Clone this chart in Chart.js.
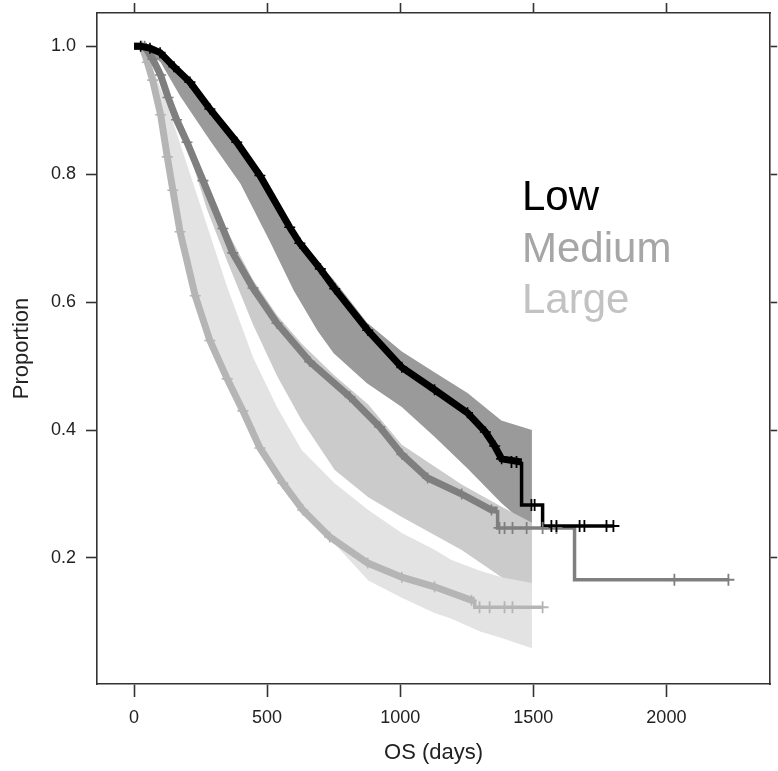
<!DOCTYPE html>
<html><head><meta charset="utf-8">
<script src="https://cdn.jsdelivr.net/npm/chart.js@4.4.1/dist/chart.umd.min.js"></script>
<style>html,body{margin:0;padding:0;background:#fff;}#wrap{width:778px;height:771px;}</style>
</head><body><div id="wrap"><canvas id="c" width="778" height="771"></canvas></div>
<script>
// ---------- data ----------
const xTicks = [0, 500, 1000, 1500, 2000];
const yTicks = [0.2, 0.4, 0.6, 0.8, 1.0];
const groupNames = ['Low', 'Medium', 'Large'];

// Kaplan-Meier curves
const lowDays = [0, 25, 60, 98, 150, 210, 285, 386, 473, 585, 623, 700, 754, 878, 1006, 1129, 1253, 1320, 1355, 1381, 1456, 1456, 1535, 1535, 1801];
const lowSurv = [1.0, 1.0, 0.997, 0.99, 0.968, 0.944, 0.902, 0.85, 0.798, 0.717, 0.692, 0.652, 0.621, 0.556, 0.498, 0.463, 0.427, 0.397, 0.375, 0.355, 0.35, 0.283, 0.283, 0.25, 0.25];
const medDays = [0, 40, 70, 100, 128, 160, 199, 259, 334, 371, 447, 537, 660, 811, 923, 1006, 1103, 1231, 1343, 1366, 1366, 1655, 1655, 2236];
const medSurv = [1.0, 1.0, 0.98, 0.955, 0.92, 0.885, 0.85, 0.79, 0.715, 0.677, 0.622, 0.567, 0.507, 0.452, 0.405, 0.362, 0.325, 0.30, 0.275, 0.275, 0.247, 0.247, 0.166, 0.166];
const largeDays = [0, 30, 50, 70, 100, 125, 146, 173, 230, 285, 350, 409, 473, 559, 634, 735, 878, 1006, 1129, 1268, 1280, 1280, 1535];
const largeSurv = [1.0, 1.0, 0.975, 0.947, 0.893, 0.827, 0.775, 0.71, 0.61, 0.54, 0.48, 0.43, 0.372, 0.317, 0.275, 0.233, 0.192, 0.17, 0.155, 0.134, 0.134, 0.123, 0.123];

// late censoring marks
const lowCensDays = [1418, 1437, 1493, 1505, 1568, 1587, 1674, 1692, 1775, 1801];
const lowCensSurv = [0.35, 0.35, 0.283, 0.283, 0.25, 0.25, 0.25, 0.25, 0.25, 0.25];
const medCensDays = [1373, 1392, 1422, 1475, 1535, 1587, 2030, 2233];
const medCensSurv = [0.247, 0.247, 0.247, 0.247, 0.247, 0.247, 0.166, 0.166];
const largeCensDays = [1298, 1336, 1392, 1422, 1535];
const largeCensSurv = [0.123, 0.123, 0.123, 0.123, 0.123];

// shaded bands
const lowBandDays = [25, 100, 175, 285, 400, 510, 600, 690, 750, 875, 1006, 1130, 1253, 1380, 1495];
const lowBandHi = [1.0, 0.993, 0.962, 0.906, 0.846, 0.78, 0.712, 0.662, 0.635, 0.568, 0.523, 0.49, 0.458, 0.415, 0.40];
const lowBandLo = [1.0, 0.975, 0.921, 0.853, 0.785, 0.695, 0.618, 0.555, 0.52, 0.473, 0.436, 0.389, 0.34, 0.286, 0.244];
const medBandDays = [40, 128, 199, 274, 349, 447, 537, 630, 754, 880, 1006, 1231, 1381, 1495];
const medBandHi = [1.0, 0.93, 0.862, 0.79, 0.712, 0.635, 0.58, 0.535, 0.485, 0.44, 0.377, 0.315, 0.28, 0.255];
const medBandLo = [1.0, 0.915, 0.845, 0.745, 0.665, 0.565, 0.485, 0.415, 0.3375, 0.295, 0.264, 0.2125, 0.17, 0.139];
const largeBandDays = [30, 70, 128, 199, 274, 349, 447, 537, 630, 754, 880, 1006, 1129, 1193, 1300, 1381, 1495];
const largeBandHi = [1.0, 0.965, 0.905, 0.815, 0.72, 0.625, 0.514, 0.436, 0.369, 0.317, 0.275, 0.239, 0.213, 0.197, 0.18, 0.17, 0.161];
const largeBandLo = [1.0, 0.945, 0.815, 0.66, 0.55, 0.475, 0.39, 0.327, 0.273, 0.222, 0.165, 0.138, 0.114, 0.105, 0.085, 0.075, 0.059];

// ---------- styles ----------
const FONT = 'Liberation Sans, Arial, Helvetica, sans-serif';
const AXIS = '#333333';
const lineColors = ['#000000', '#7f7f7f', '#b5b5b5'];
const bandColors = ['#9a9a9a', '#cbcbcb', '#e3e3e3'];
const legendColors = ['#000000', '#a6a6a6', '#c2c2c2'];
const denseUntil = [1400, 1360, 1275];

const pts = (xs, ys) => xs.map((x, i) => ({x: x, y: ys[i]}));

function curve(xs, ys, k) {
  return {
    type: 'line', data: pts(xs, ys), borderColor: lineColors[k], borderWidth: 3.5,
    order: 3 + k, fill: false, tension: 0,
    segment: { borderWidth: c => (c.p0.parsed.x < denseUntil[k] ? 7 : 3.5) },
    pointStyle: 'cross', pointBorderColor: lineColors[k], pointBorderWidth: 1.6,
    pointRadius: c => (c.raw && c.raw.x > 20 && c.raw.x < denseUntil[k] ? 5.5 : 0)
  };
}
function cens(xs, ys, k) {
  return {
    type: 'line', data: pts(xs, ys), showLine: false, order: k,
    pointStyle: 'cross', pointRadius: 6, pointBorderWidth: 1.8,
    pointBorderColor: lineColors[k], pointBackgroundColor: lineColors[k]
  };
}
function band(xs, hi, lo, k) {
  return [
    {type: 'line', data: pts(xs, hi), borderWidth: 0, pointRadius: 0, fill: '+1',
     backgroundColor: bandColors[k], order: 12 - k, tension: 0},
    {type: 'line', data: pts(xs, lo), borderWidth: 0, pointRadius: 0, fill: false,
     order: 12 - k, tension: 0}
  ];
}

const datasets = [
  ...band(largeBandDays, largeBandHi, largeBandLo, 2),
  ...band(medBandDays, medBandHi, medBandLo, 1),
  ...band(lowBandDays, lowBandHi, lowBandLo, 0),
  curve(largeDays, largeSurv, 2),
  curve(medDays, medSurv, 1),
  curve(lowDays, lowSurv, 0),
  cens(largeCensDays, largeCensSurv, 2),
  cens(medCensDays, medCensSurv, 1),
  cens(lowCensDays, lowCensSurv, 0)
];

const legendPlugin = {
  id: 'groupLegend',
  afterDraw(chart) {
    const ctx = chart.ctx, a = chart.chartArea;
    ctx.save();
    ctx.font = '42px ' + FONT;
    ctx.textAlign = 'left';
    ctx.textBaseline = 'alphabetic';
    groupNames.forEach((g, i) => {
      ctx.fillStyle = legendColors[i];
      ctx.fillText(g, a.left + 425, a.top + 197 + i * 51.5);
    });
    ctx.restore();
  }
};

const tickFont = {family: FONT, size: 18};
const titleFont = {family: FONT, size: 22};
const xr = {min: -139, max: 2390};
const yr = {min: 0.003, max: 1.052};
const gridBase = {drawOnChartArea: false, drawTicks: true, tickColor: AXIS, tickWidth: 1.6, color: AXIS};
const border = {display: true, color: AXIS, width: 1.6};
const noPad = s => { s.paddingTop = 0; s.paddingBottom = 0; s.paddingLeft = 0; s.paddingRight = 0; };

new Chart(document.getElementById('c'), {
  type: 'line',
  data: {datasets},
  options: {
    responsive: false, animation: false, parsing: true,
    layout: {padding: 0},
    plugins: {legend: {display: false}, tooltip: {enabled: false}},
    scales: {
      x: {type: 'linear', position: 'bottom', ...xr,
        afterBuildTicks: s => { s.ticks = xTicks.map(v => ({value: v})); },
        afterFit: s => { s.height = 87; noPad(s); },
        ticks: {font: tickFont, color: '#222', padding: 10, maxRotation: 0, autoSkip: false, callback: v => String(v)},
        grid: {...gridBase, tickLength: 13}, border,
        title: {display: true, text: 'OS (days)', font: titleFont, color: '#222', padding: {top: 0, bottom: 5}}
      },
      x2: {type: 'linear', position: 'top', ...xr,
        afterBuildTicks: s => { s.ticks = xTicks.map(v => ({value: v})); },
        afterFit: s => { s.height = 13; noPad(s); },
        ticks: {display: false}, grid: {...gridBase, tickLength: 10}, border
      },
      y: {type: 'linear', position: 'left', ...yr,
        afterBuildTicks: s => { s.ticks = yTicks.map(v => ({value: v})); },
        afterFit: s => { s.width = 97; noPad(s); },
        ticks: {font: tickFont, color: '#222', padding: 10, callback: v => Number(v).toFixed(1)},
        grid: {...gridBase, tickLength: 11}, border,
        title: {display: true, text: 'Proportion', font: titleFont, color: '#222', padding: {top: 9, bottom: 0}}
      },
      y2: {type: 'linear', position: 'right', ...yr,
        afterBuildTicks: s => { s.ticks = yTicks.map(v => ({value: v})); },
        afterFit: s => { s.width = 7; noPad(s); },
        ticks: {display: false}, grid: {...gridBase, tickLength: 7}, border
      }
    }
  },
  plugins: [legendPlugin]
});
</script></body></html>
